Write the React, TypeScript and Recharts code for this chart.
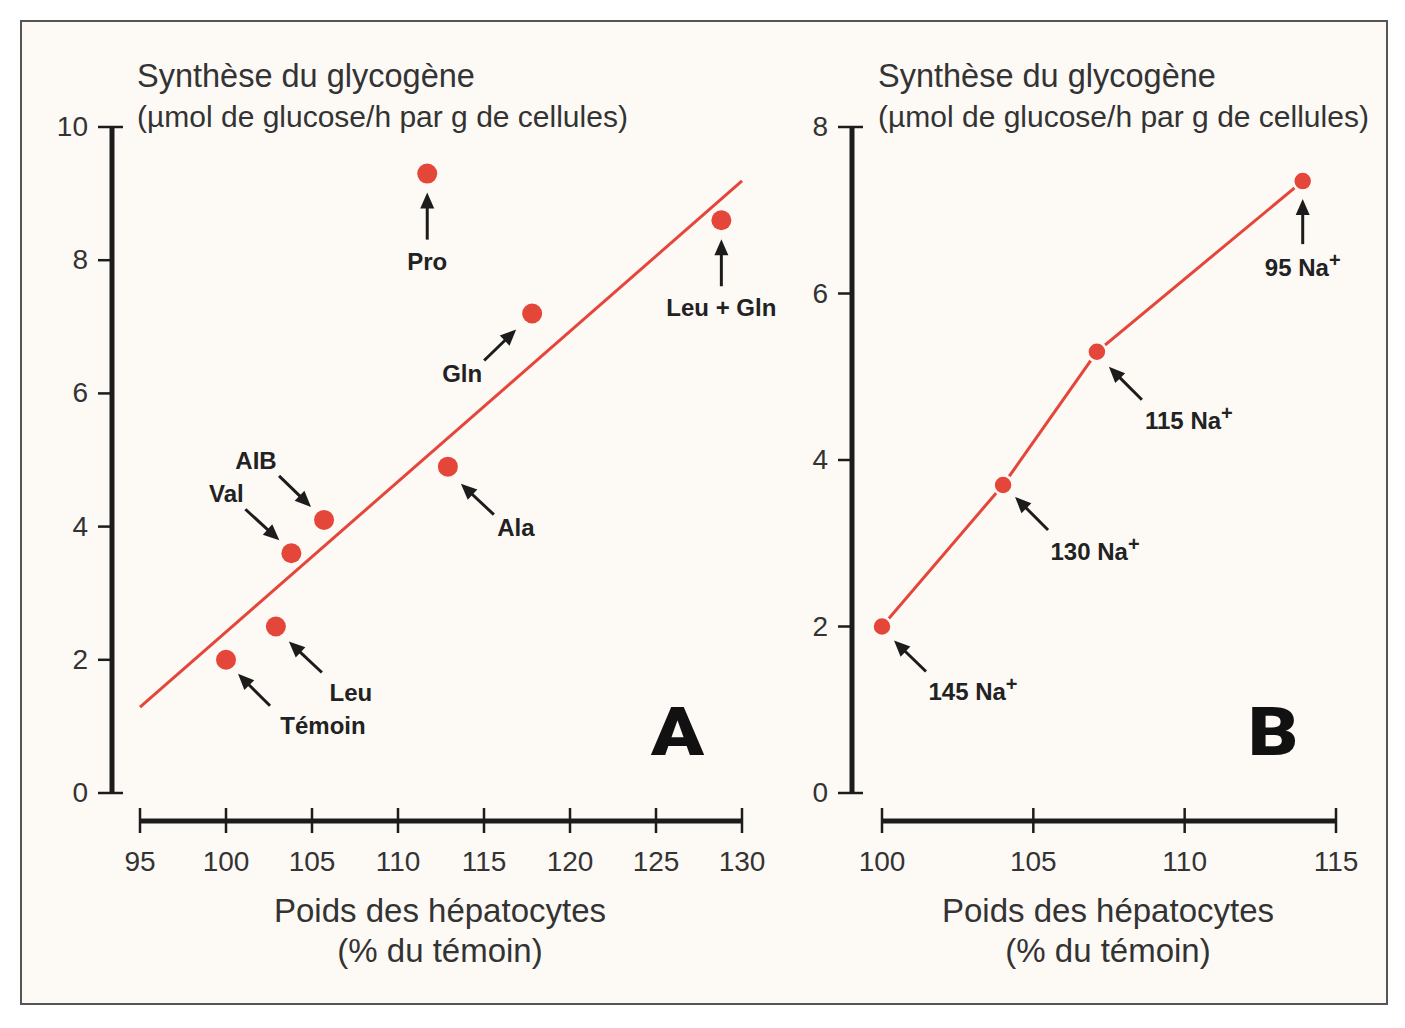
import React from "react";
import { ComposedChart, Scatter, Line, XAxis, YAxis, ReferenceLine } from "recharts";

// Panel A: amino acids
const aminoNames = ["Témoin", "Leu", "Val", "AIB", "Ala", "Pro", "Gln", "Leu + Gln"];
const aminoWeight = [100, 102.9, 103.8, 105.7, 112.9, 111.7, 117.8, 128.8];
const aminoSynthesis = [2.0, 2.5, 3.6, 4.1, 4.9, 9.3, 7.2, 8.6];

// fitted line, read at both ends of the x range
const fitWeight = [95, 130];
const fitSynthesis = [1.29, 9.19];

// Panel B: sodium
const sodiumNames = ["145 Na+", "130 Na+", "115 Na+", "95 Na+"];
const sodiumWeight = [100, 104, 107.1, 113.9];
const sodiumSynthesis = [2.0, 3.7, 5.3, 7.35];

const ticksXA = [95, 100, 105, 110, 115, 120, 125, 130];
const ticksYA = [0, 2, 4, 6, 8, 10];
const ticksXB = [100, 105, 110, 115];
const ticksYB = [0, 2, 4, 6, 8];

const aminoData = aminoNames.map((name, i) => ({ name, x: aminoWeight[i], y: aminoSynthesis[i] }));
const fitData = fitWeight.map((x, i) => ({ x, y: fitSynthesis[i] }));
const sodiumData = sodiumNames.map((name, i) => ({ name, x: sodiumWeight[i], y: sodiumSynthesis[i] }));

const RED = "#e5463a";
const INK = "#1c1c1c";
const TEXT = "#333";
const BG = "#fdfaf6";
const FONT = "'Liberation Sans', Arial, Helvetica, sans-serif";

// arrow placement around each point: tip, tail and label centre, relative to the dot
const UP = { tip: [0, 19], tail: [0, 66], label: [0, 87] };
const callouts: Record<string, { tip: number[]; tail: number[]; label: number[] }> = {
  "Témoin": { tip: [12, 14], tail: [44, 46], label: [97, 65] },
  Leu: { tip: [13, 15], tail: [46, 46], label: [75, 65] },
  Val: { tip: [-12, -13], tail: [-46, -44], label: [-65, -60] },
  AIB: { tip: [-13, -13], tail: [-45, -44], label: [-68, -60] },
  Ala: { tip: [13, 17], tail: [46, 48], label: [68, 60] },
  Pro: UP,
  Gln: { tip: [-16, 16], tail: [-48, 47], label: [-70, 60] },
  "Leu + Gln": UP,
  "145 Na+": { tip: [12, 14], tail: [44, 45], label: [91, 64] },
  "130 Na+": { tip: [12, 12], tail: [45, 45], label: [92, 66] },
  "115 Na+": { tip: [12, 15], tail: [45, 48], label: [92, 68] },
  "95 Na+": { tip: [0, 18], tail: [0, 63], label: [0, 86] },
};

function Arrow({ x1, y1, x2, y2 }: { x1: number; y1: number; x2: number; y2: number }) {
  const a = Math.atan2(y2 - y1, x2 - x1);
  const L = 16;
  const W = 7;
  const bx = x2 - L * Math.cos(a);
  const by = y2 - L * Math.sin(a);
  const px = -Math.sin(a) * W;
  const py = Math.cos(a) * W;
  return (
    <g>
      <line x1={x1} y1={y1} x2={bx + Math.cos(a) * 2} y2={by + Math.sin(a) * 2} stroke={INK} strokeWidth={3} />
      <polygon points={`${x2},${y2} ${bx + px},${by + py} ${bx - px},${by - py}`} fill={INK} />
    </g>
  );
}

function Callout({ cx, cy, name }: { cx: number; cy: number; name: string }) {
  const c = callouts[name];
  if (!c) return null;
  const sup = name.endsWith("+");
  const base = sup ? name.slice(0, -1) : name;
  return (
    <g>
      <Arrow x1={cx + c.tail[0]} y1={cy + c.tail[1]} x2={cx + c.tip[0]} y2={cy + c.tip[1]} />
      <text
        x={cx + c.label[0]}
        y={cy + c.label[1] + 9}
        textAnchor="middle"
        fontFamily={FONT}
        fontWeight={700}
        fontSize={24}
        fill="#222"
      >
        {base}
        {sup && (
          <tspan dy={-9} fontSize={20}>
            +
          </tspan>
        )}
      </text>
    </g>
  );
}

function AminoDot(props: any) {
  const { cx, cy, payload } = props;
  return (
    <g>
      <circle cx={cx} cy={cy} r={10} fill={RED} />
      <Callout cx={cx} cy={cy} name={payload.name} />
    </g>
  );
}

function SodiumDot(props: any) {
  const { cx, cy, payload } = props;
  return (
    <g>
      <circle cx={cx} cy={cy} r={9.5} fill={RED} stroke={BG} strokeWidth={2.5} />
      <Callout cx={cx} cy={cy} name={payload.name} />
    </g>
  );
}

function XTick(props: any) {
  const { x, y, payload } = props;
  return (
    <g>
      <line x1={x} x2={x} y1={y + 15} y2={y + 40} stroke={INK} strokeWidth={2.5} />
      <text x={x} y={y + 78} textAnchor="middle" fontFamily={FONT} fontSize={28} fill={TEXT}>
        {payload.value}
      </text>
    </g>
  );
}

function makeYTick(top: number) {
  return function YTick(props: any) {
    const { x, y, payload } = props;
    const end = payload.value === 0 || payload.value === top;
    return (
      <g>
        <line x1={x - 14} x2={end ? x + 11 : x} y1={y} y2={y} stroke={INK} strokeWidth={2.5} />
        <text x={x - 24} y={y + 9} textAnchor="end" fontFamily={FONT} fontSize={28} fill={TEXT}>
          {payload.value}
        </text>
      </g>
    );
  };
}

const YTickA = makeYTick(10);
const YTickB = makeYTick(8);

function TextLine({ left, top, text, size, center }: { left: number; top: number; text: string; size: number; center?: boolean }) {
  return (
    <div
      style={{
        position: "absolute",
        left: center ? left - 300 : left,
        top,
        width: center ? 600 : undefined,
        textAlign: center ? "center" : "left",
        fontFamily: FONT,
        fontSize: size,
        lineHeight: "40px",
        color: TEXT,
        whiteSpace: "nowrap",
      }}
    >
      {text}
    </div>
  );
}

function PanelLetter({ left, top, letter }: { left: number; top: number; letter: string }) {
  return (
    <div
      style={{
        position: "absolute",
        left,
        top,
        fontFamily: "Roboto, 'DejaVu Sans', sans-serif",
        fontWeight: 900,
        fontSize: 66,
        lineHeight: "66px",
        color: "#111",
        transform: "scaleX(1.18)",
        transformOrigin: "left top",
      }}
    >
      {letter}
    </div>
  );
}

export default function App() {
  return (
    <div style={{ position: "absolute", left: 0, top: 0, width: 1405, height: 1028, background: "#fff" }}>
      <div
        style={{
          position: "absolute",
          left: 20,
          top: 20,
          width: 1368,
          height: 985,
          border: "2px solid #555",
          boxSizing: "border-box",
          background: BG,
        }}
      />

      <div style={{ position: "absolute", left: 0, top: 0 }}>
        <ComposedChart width={780} height={1000} margin={{ top: 127, right: 38, bottom: 107, left: 0 }}>
          <XAxis
            type="number"
            dataKey="x"
            domain={[95, 130]}
            ticks={ticksXA}
            padding={{ left: 28, right: 0 }}
            axisLine={false}
            tickLine={false}
            tickSize={0}
            tickMargin={0}
            height={100}
            tick={<XTick />}
            interval={0}
          />
          <YAxis
            type="number"
            domain={[0, 10]}
            ticks={ticksYA}
            width={112}
            axisLine={{ stroke: INK, strokeWidth: 5 }}
            tickLine={false}
            tickSize={0}
            tickMargin={0}
            tick={<YTickA />}
            interval={0}
          />
          <ReferenceLine
            segment={[
              { x: 95, y: -0.42 },
              { x: 130, y: -0.42 },
            ]}
            stroke={INK}
            strokeWidth={5}
            ifOverflow="visible"
          />
          <Line
            data={fitData}
            dataKey="y"
            type="linear"
            stroke={RED}
            strokeWidth={3}
            dot={false}
            activeDot={false}
            isAnimationActive={false}
          />
          <Scatter data={aminoData} dataKey="y" shape={<AminoDot />} isAnimationActive={false} />
        </ComposedChart>
      </div>

      <div style={{ position: "absolute", left: 780, top: 0 }}>
        <ComposedChart width={620} height={1000} margin={{ top: 127, right: 64, bottom: 107, left: 0 }}>
          <XAxis
            type="number"
            dataKey="x"
            domain={[100, 115]}
            ticks={ticksXB}
            padding={{ left: 30, right: 0 }}
            axisLine={false}
            tickLine={false}
            tickSize={0}
            tickMargin={0}
            height={100}
            tick={<XTick />}
            interval={0}
          />
          <YAxis
            type="number"
            domain={[0, 8]}
            ticks={ticksYB}
            width={72}
            axisLine={{ stroke: INK, strokeWidth: 5 }}
            tickLine={false}
            tickSize={0}
            tickMargin={0}
            tick={<YTickB />}
            interval={0}
          />
          <ReferenceLine
            segment={[
              { x: 100, y: -0.336 },
              { x: 115, y: -0.336 },
            ]}
            stroke={INK}
            strokeWidth={5}
            ifOverflow="visible"
          />
          <Line
            data={sodiumData}
            dataKey="y"
            type="linear"
            stroke={RED}
            strokeWidth={3}
            dot={(p: any) => <SodiumDot key={`na-${p.index}`} {...p} />}
            activeDot={false}
            isAnimationActive={false}
          />
        </ComposedChart>
      </div>

      <TextLine left={137} top={56} size={32.5} text="Synthèse du glycogène" />
      <TextLine left={137} top={97} size={30} text="(µmol de glucose/h par g de cellules)" />
      <TextLine left={878} top={56} size={32.5} text="Synthèse du glycogène" />
      <TextLine left={878} top={97} size={30} text="(µmol de glucose/h par g de cellules)" />

      <TextLine left={440} top={891} size={33} center text="Poids des hépatocytes" />
      <TextLine left={440} top={931} size={33} center text="(% du témoin)" />
      <TextLine left={1108} top={891} size={33} center text="Poids des hépatocytes" />
      <TextLine left={1108} top={931} size={33} center text="(% du témoin)" />

      <PanelLetter left={651} top={700} letter="A" />
      <PanelLetter left={1248} top={700} letter="B" />
    </div>
  );
}
